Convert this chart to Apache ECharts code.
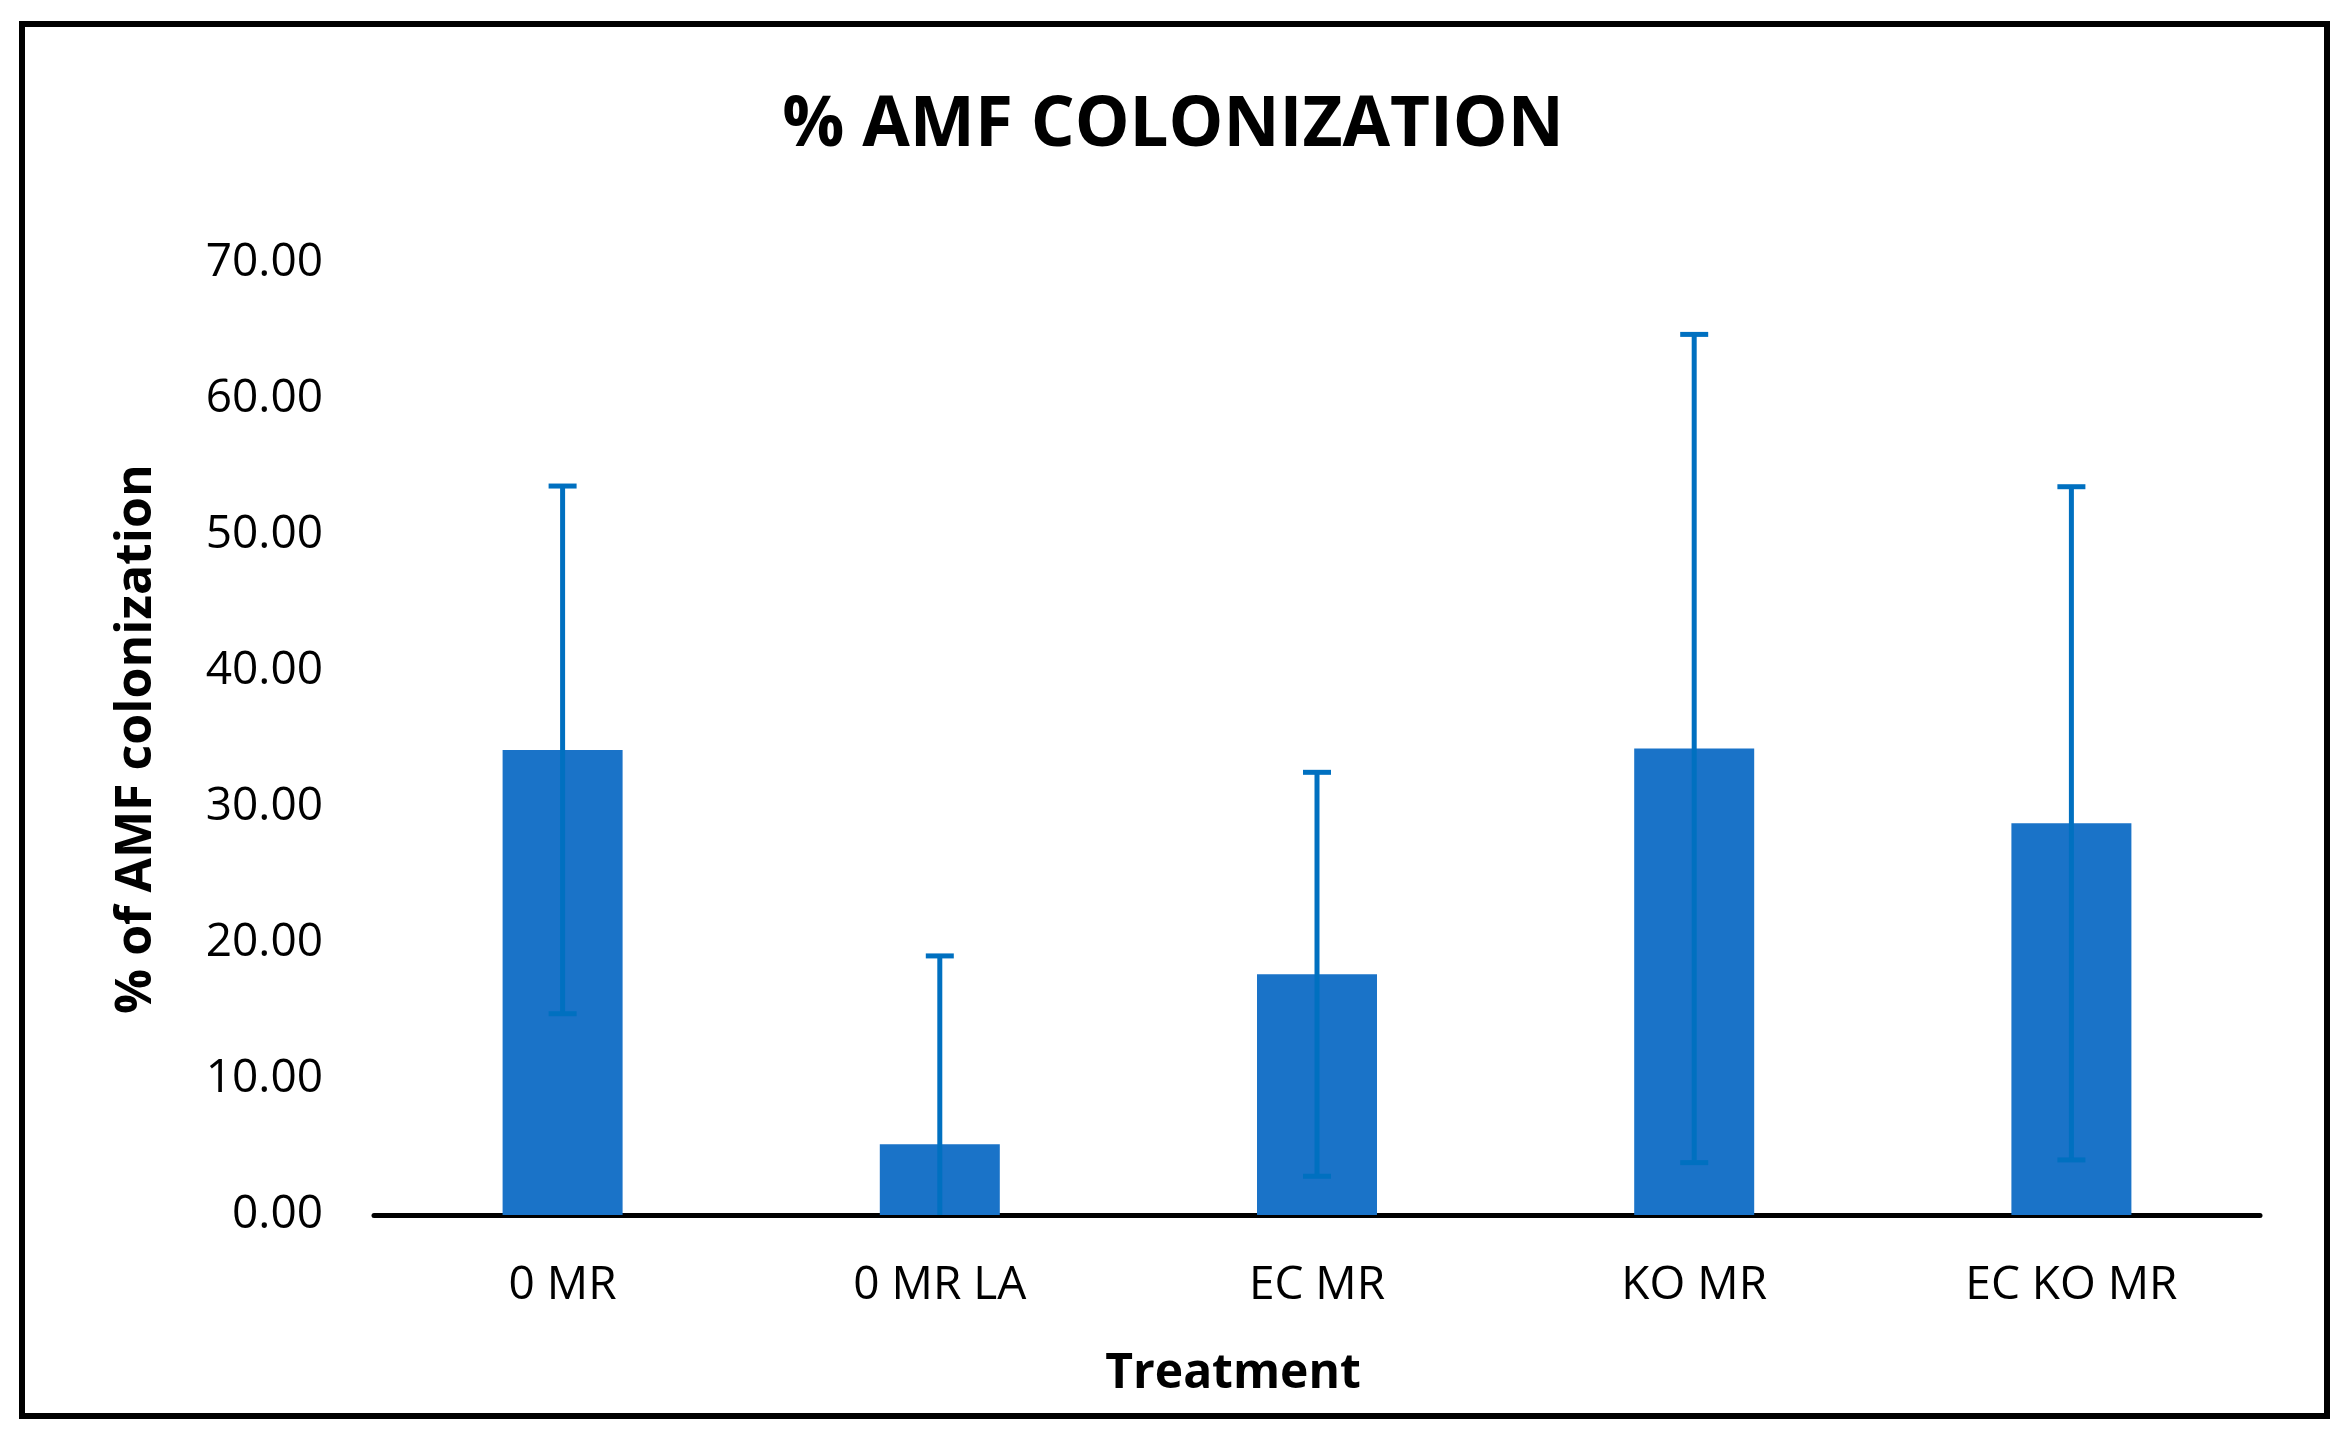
<!DOCTYPE html>
<html>
<head>
<meta charset="utf-8">
<script src="https://cdn.jsdelivr.net/npm/echarts@6/dist/echarts.min.js"></script>
<style>
  html, body { margin: 0; padding: 0; background: #ffffff; }
  #chart { width: 2346px; height: 1435px; }
</style>
</head>
<body>
<div id="chart"></div>
<script>
// ---- Data ----
const categories = ['0 MR', '0 MR LA', 'EC MR', 'KO MR', 'EC KO MR'];
const meanValues = [34.2, 5.2, 17.7, 34.3, 28.8];
const errorValues = [19.4, 13.85, 14.85, 30.45, 24.75];
const yTicks = [0, 10, 20, 30, 40, 50, 60, 70];

const chartTitle = '% AMF COLONIZATION';
const yAxisTitle = '% of AMF colonization';
const xAxisTitle = 'Treatment';

const FONT = '"Open Sans", "Noto Sans", sans-serif';
const BAR_COLOR = '#1a73c8';
const ERR_COLOR = '#0070c0';

const chart = echarts.init(document.getElementById('chart'), null, { renderer: 'canvas' });

const errData = categories.map((c, i) => [i, meanValues[i], errorValues[i]]);

const option = {
  backgroundColor: '#ffffff',
  animation: false,
  title: {
    text: chartTitle,
    left: 'center',
    top: 87,
    textStyle: { fontFamily: FONT, fontWeight: 'bold', fontSize: 69, color: '#000000' }
  },
  grid: { left: 374, right: 86, top: 263, bottom: 220 },
  xAxis: {
    type: 'category',
    data: categories,
    axisLine: { show: true, lineStyle: { color: '#000000', width: 5 } },
    axisTick: { show: false },
    axisLabel: { fontFamily: FONT, fontSize: 46, color: '#000000', margin: 48 },
    splitLine: { show: false }
  },
  yAxis: {
    type: 'value',
    min: yTicks[0],
    max: yTicks[yTicks.length - 1],
    interval: 10,
    name: yAxisTitle,
    nameLocation: 'middle',
    nameGap: 212,
    nameTextStyle: { fontFamily: FONT, fontWeight: 'bold', fontSize: 50, color: '#000000' },
    axisLine: { show: false },
    axisTick: { show: false },
    splitLine: { show: false },
    axisLabel: {
      fontFamily: FONT, fontSize: 46, color: '#000000', margin: 51,
      verticalAlign: 'middle',
      padding: [12, 0, 0, 0],
      formatter: v => v.toFixed(2)
    }
  },
  graphic: [
    {
      type: 'rect',
      shape: { x: 22, y: 24, width: 2305, height: 1392 },
      style: { fill: 'none', stroke: '#000000', lineWidth: 6 },
      silent: true, z: 100
    },
    {
      type: 'text',
      x: 1233, y: 1374,
      style: {
        text: xAxisTitle, fontFamily: FONT, fontWeight: 'bold', fontSize: 48,
        fill: '#000000', align: 'center', verticalAlign: 'middle'
      }
    }
  ],
  series: [
    {
      type: 'bar',
      data: meanValues,
      barWidth: 120,
      itemStyle: { color: BAR_COLOR },
      z: 2
    },
    {
      type: 'custom',
      data: errData,
      z: 3,
      renderItem: function (params, api) {
        const i = api.value(0);
        const m = api.value(1);
        const e = api.value(2);
        const hi = m + e;
        const loRaw = m - e;
        const lo = Math.max(0, loRaw);
        const pHi = api.coord([i, hi]);
        const pLo = api.coord([i, lo]);
        const half = 14;
        const st = { stroke: ERR_COLOR, lineWidth: 5, lineCap: 'butt' };
        const children = [
          { type: 'line', shape: { x1: pHi[0], y1: pHi[1], x2: pLo[0], y2: pLo[1] }, style: st },
          { type: 'line', shape: { x1: pHi[0] - half, y1: pHi[1], x2: pHi[0] + half, y2: pHi[1] }, style: st }
        ];
        if (loRaw >= 0) {
          children.push({ type: 'line', shape: { x1: pLo[0] - half, y1: pLo[1], x2: pLo[0] + half, y2: pLo[1] }, style: st });
        }
        return { type: 'group', children: children };
      }
    }
  ]
};

chart.setOption(option);
</script>
</body>
</html>
